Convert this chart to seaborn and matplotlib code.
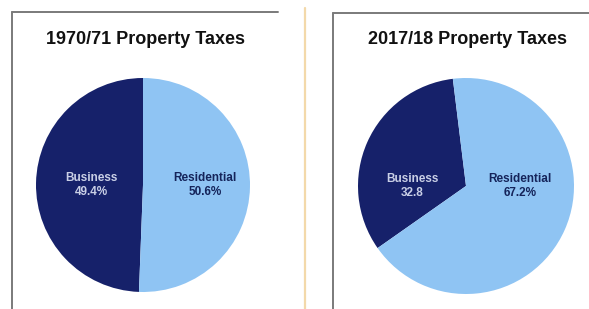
import numpy as np
import matplotlib
matplotlib.use('Agg')
import matplotlib.pyplot as plt
import seaborn as sns
from matplotlib.lines import Line2D

# data
categories = ["Business", "Residential"]
shares_1970 = [49.4, 50.6]
shares_2017 = [32.8, 67.2]
pct_labels_1970 = ["49.4%", "50.6%"]
pct_labels_2017 = ["32.8", "67.2%"]
titles = ["1970/71 Property Taxes", "2017/18 Property Taxes"]

sns.set_theme(style="white")
plt.rcParams['font.family'] = ['Liberation Sans', 'DejaVu Sans']

dark = "#16216a"
light = "#8fc4f3"
W, H = 589, 309

fig = plt.figure(figsize=(W / 100, H / 100), dpi=100)
fig.patch.set_facecolor("white")

def px_line(x0, y0, x1, y1, color, lw):
    fig.add_artist(Line2D([x0 / W, x1 / W], [1 - y0 / H, 1 - y1 / H],
                          transform=fig.transFigure, color=color, lw=lw))

# panel frames
px_line(12, 12, 278, 12, "#7a7a7a", 1.4)
px_line(12, 12, 12, 309, "#7a7a7a", 1.4)
px_line(333, 13, 589, 13, "#7a7a7a", 1.4)
px_line(333, 13, 333, 309, "#7a7a7a", 1.4)
px_line(305, 8, 305, 309, "#f3d9aa", 1.6)

panels = [
    dict(cx=143, cy=185, r=107, shares=shares_1970, pcts=pct_labels_1970,
         start=90, title=titles[0], tx=146, lab_dx=[-0.48, 0.58]),
    dict(cx=466, cy=186, r=108, shares=shares_2017, pcts=pct_labels_2017,
         start=97, title=titles[1], tx=467, lab_dx=[-0.50, 0.50]),
]

for p in panels:
    ax = fig.add_axes([(p["cx"] - p["r"]) / W, 1 - (p["cy"] + p["r"]) / H,
                       2 * p["r"] / W, 2 * p["r"] / H])
    ax.pie(p["shares"], colors=[dark, light], startangle=p["start"],
           counterclock=True, wedgeprops=dict(linewidth=0))
    ax.set_xlim(-1, 1)
    ax.set_ylim(-1, 1)
    ax.set_aspect("equal")
    ax.axis("off")
    txt_colors = ["#c9cfe6", "#15245a"]
    for i, cat in enumerate(categories):
        ax.text(p["lab_dx"][i], 0.0, f"{cat}\n{p['pcts'][i]}", ha="center",
                va="center", fontsize=8.5, fontweight="bold", color=txt_colors[i],
                linespacing=1.15)
    fig.text(p["tx"] / W, 1 - 40 / H, p["title"], ha="center", va="center",
             fontsize=13, fontweight="bold", color="#111111")

fig.savefig("out.png", dpi=100, facecolor="white")
